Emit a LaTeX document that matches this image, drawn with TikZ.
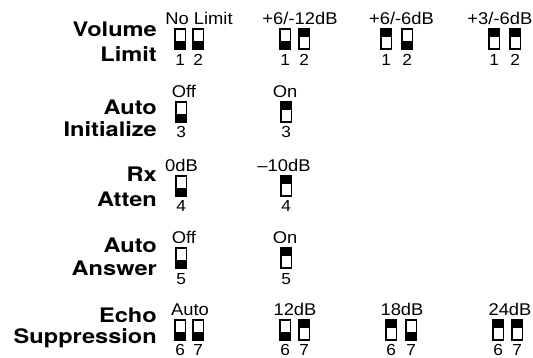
\documentclass[tikz,border=0pt]{standalone}
\usepackage{fontspec}
\setmainfont{TeX Gyre Heros}
\newfontfamily\hdfont[FakeStretch=1.18]{TeX Gyre Heros}
\newfontfamily\smfont[FakeStretch=1.08]{Liberation Sans}

\tikzset{
  swbox/.style={draw=black, line width=1.2pt},
  knob/.style={fill=black},
  hd/.style={font=\hdfont\bfseries\fontsize{20}{22}\selectfont, inner sep=0pt, anchor=base east},
  setting/.style={font=\smfont\fontsize{17}{19}\selectfont, inner sep=0pt, anchor=base},
  num/.style={font=\smfont\fontsize{16}{18}\selectfont, inner sep=0pt, anchor=base},
}

\begin{document}
\begin{tikzpicture}[x=1pt,y=-1pt]
  \useasboundingbox (0,0) rectangle (533,358);
  % row titles
  \node[hd] (vol) at (157,37) {Volume};
  \node[hd] (lim) at (157,62) {Limit};
  \node[hd] (auto) at (157,115) {Auto};
  \node[hd] (init) at (157,137) {Initialize};
  \node[hd] (rx) at (157,182) {Rx};
  \node[hd] (atten) at (157,207) {Atten};
  \node[hd] (autoa) at (157,253) {Auto};
  \node[hd] (answer) at (157,276) {Answer};
  \node[hd] (echo) at (157,322) {Echo};
  \node[hd] (supp) at (157,343) {Suppression};
  % volume limit
  \begin{scope}[yshift=-29pt]
    \foreach \x/\k in {175/12,193/12,280/12,299/0,381/0,402/12,489/0,510/0}{
      \fill[knob] (\x,\k) rectangle ++(10.5,8);
      \draw[swbox] (\x,0) rectangle ++(10.5,20);
    }
    \node[setting] (nolim) at (199,-4) {No Limit};
    \node[setting] (vl12) at (300,-4) {+6/-12dB};
    \node[setting] (vl6) at (401.5,-4) {+6/-6dB};
    \node[setting, anchor=base east] (vl3) at (532.5,-4) {+3/-6dB};
    \foreach \x/\n [count=\i] in {175/1,193/2,280/1,299/2,381/1,402/2,489/1,510/2}
      \node[num] (vn\i) at (\x+5.25,37) {\n};
  \end{scope}
  % auto initialize
  \begin{scope}[yshift=-102pt]
    \foreach \x/\k in {176/12,281/0}{
      \fill[knob] (\x,\k) rectangle ++(10.5,8);
      \draw[swbox] (\x,0) rectangle ++(10.5,20);
    }
    \node[setting] (ioff) at (184,-4) {Off};
    \node[setting] (ion) at (285,-4) {On};
    \node[num] (in1) at (181.25,36) {3};
    \node[num] (in2) at (286.25,36) {3};
  \end{scope}
  % rx atten
  \begin{scope}[yshift=-176pt]
    \foreach \x/\k in {176/12,281/0}{
      \fill[knob] (\x,\k) rectangle ++(10.5,8);
      \draw[swbox] (\x,0) rectangle ++(10.5,20);
    }
    \node[setting] (r0) at (181.5,-4) {0dB};
    \node[setting] (r10) at (284,-4) {–10dB};
    \node[num] (rn1) at (181.25,36) {4};
    \node[num] (rn2) at (286.25,36) {4};
  \end{scope}
  % auto answer
  \begin{scope}[yshift=-248pt]
    \foreach \x/\k in {176/12,281/0}{
      \fill[knob] (\x,\k) rectangle ++(10.5,8);
      \draw[swbox] (\x,0) rectangle ++(10.5,20);
    }
    \node[setting] (aoff) at (184,-4) {Off};
    \node[setting] (aon) at (285,-4) {On};
    \node[num] (an1) at (181.25,36) {5};
    \node[num] (an2) at (286.25,36) {5};
  \end{scope}
  % echo suppression
  \begin{scope}[yshift=-320pt]
    \foreach \x/\k in {175/12,193/12,280/12,299/0,386/0,406/12,493/0,512/0}{
      \fill[knob] (\x,\k) rectangle ++(10.5,8);
      \draw[swbox] (\x,0) rectangle ++(10.5,20);
    }
    \node[setting] (eauto) at (190,-4) {Auto};
    \node[setting] (e12) at (295,-4) {12dB};
    \node[setting] (e18) at (402,-4) {18dB};
    \node[setting] (e24) at (510,-4) {24dB};
    \foreach \x/\n [count=\i] in {175/6,193/7,280/6,299/7,386/6,406/7,493/6,512/7}
      \node[num] (en\i) at (\x+5.25,35) {\n};
  \end{scope}
\end{tikzpicture}
\end{document}
